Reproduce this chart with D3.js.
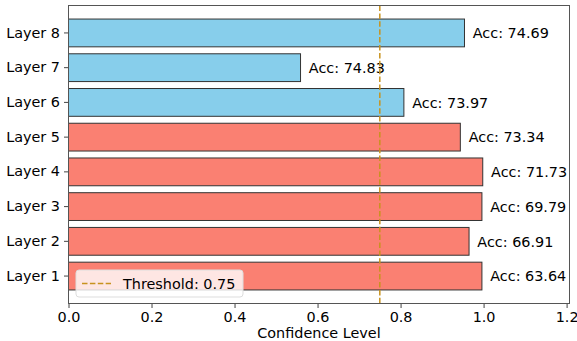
<!DOCTYPE html>
<html>
<head>
<meta charset="utf-8">
<script src="https://cdn.jsdelivr.net/npm/d3@7"></script>
<style>
  html, body { margin: 0; padding: 0; background: #fff; }
  svg { display: block; }
  svg text { font-family: "DejaVu Sans", sans-serif; }
</style>
</head>
<body>
<svg id="chart" width="577" height="341"></svg>
<script>
const layers = ["Layer 1", "Layer 2", "Layer 3", "Layer 4", "Layer 5", "Layer 6", "Layer 7", "Layer 8"];
const confidence = [0.996, 0.965, 0.996, 0.998, 0.944, 0.808, 0.559, 0.954];
const accuracy = [63.64, 66.91, 69.79, 71.73, 73.34, 73.97, 74.83, 74.69];
const barColors = ["#FA8072", "#FA8072", "#FA8072", "#FA8072", "#FA8072", "#87CEEB", "#87CEEB", "#87CEEB"];
const xTicks = [0.0, 0.2, 0.4, 0.6, 0.8, 1.0, 1.2];
const threshold = 0.75;
const thresholdLabel = "Threshold: 0.75";
const xLabel = "Confidence Level";

const svg = d3.select("#chart");
const L = 68.5, R = 569.5, T = 5.5, B = 303.5;
const fs = 14.4;

const x = d3.scaleLinear().domain([0, 1.207]).range([L, R]);
const y = d3.scaleBand().domain(layers.slice().reverse()).range([T, B])
  .paddingInner(0.2).paddingOuter(0.39);

svg.append("g").selectAll("rect").data(layers).join("rect")
  .attr("x", x(0))
  .attr("y", d => y(d))
  .attr("width", (d, i) => x(confidence[i]) - x(0))
  .attr("height", y.bandwidth())
  .attr("fill", (d, i) => barColors[i])
  .attr("stroke", "#333")
  .attr("stroke-width", 1);

svg.append("g").selectAll("text").data(layers).join("text")
  .attr("x", (d, i) => x(confidence[i] + 0.02))
  .attr("y", d => y(d) + y.bandwidth() / 2)
  .attr("dy", "0.36em")
  .style("font-size", fs + "px")
  .attr("fill", "#000")
  .text((d, i) => "Acc: " + accuracy[i].toFixed(2));

svg.append("line")
  .attr("x1", x(threshold)).attr("x2", x(threshold))
  .attr("y1", T).attr("y2", B)
  .attr("stroke", "#C8921E")
  .attr("stroke-width", 1.5)
  .attr("stroke-dasharray", "5.5,2.4");

const xAxis = d3.axisBottom(x).tickValues(xTicks).tickFormat(d3.format(".1f")).tickSizeOuter(0).tickSize(4.5).tickPadding(4);
const gx = svg.append("g").attr("transform", `translate(0,${B})`).call(xAxis);
gx.select(".domain").remove();
gx.selectAll("text").style("font-size", fs + "px").attr("fill", "#000");
gx.selectAll("line").attr("stroke", "#444");

const yAxis = d3.axisLeft(y).tickSizeOuter(0).tickSize(4.5).tickPadding(4);
const gy = svg.append("g").attr("transform", `translate(${L},0)`).call(yAxis);
gy.select(".domain").remove();
gy.selectAll("text").style("font-size", fs + "px").attr("fill", "#000");
gy.selectAll("line").attr("stroke", "#444");

svg.append("rect").attr("x", L).attr("y", T).attr("width", R - L).attr("height", B - T)
  .attr("fill", "none").attr("stroke", "#555").attr("stroke-width", 1);

svg.append("text").attr("x", (L + R) / 2).attr("y", 338)
  .attr("text-anchor", "middle").style("font-size", fs + "px").attr("fill", "#000").text(xLabel);

const lg = svg.append("g");
lg.append("rect").attr("x", 76).attr("y", 270).attr("width", 167).attr("height", 27)
  .attr("rx", 3).attr("fill", "#fff").attr("fill-opacity", 0.8)
  .attr("stroke", "#ddd").attr("stroke-width", 1);
lg.append("line").attr("x1", 82).attr("x2", 111).attr("y1", 283.5).attr("y2", 283.5)
  .attr("stroke", "#C8921E").attr("stroke-width", 1.5).attr("stroke-dasharray", "5.5,2.4");
lg.append("text").attr("x", 123).attr("y", 283.5).attr("dy", "0.36em")
  .style("font-size", fs + "px").attr("fill", "#000").text(thresholdLabel);
</script>
</body>
</html>
